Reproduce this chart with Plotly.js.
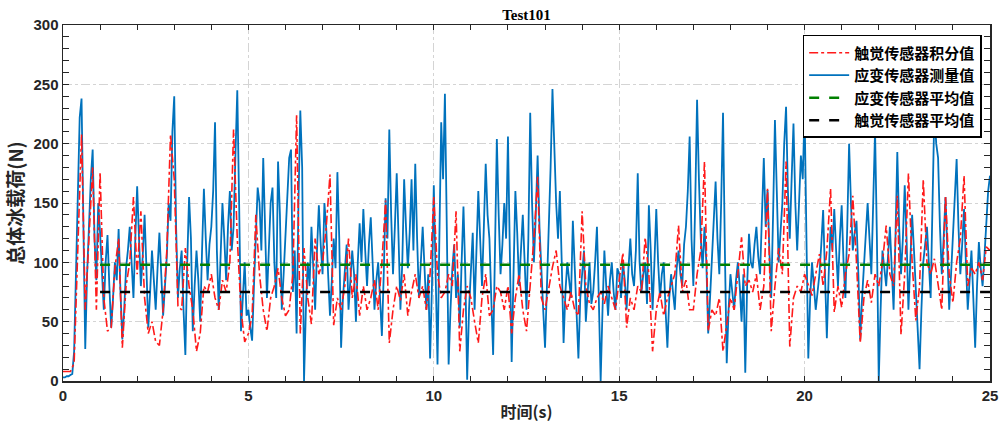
<!DOCTYPE html>
<html>
<head>
<meta charset="utf-8">
<script src="https://cdn.plot.ly/plotly-3.0.1.min.js"></script>
<style>html,body{margin:0;padding:0;background:#fff;}#chart{width:1001px;height:427px;}</style>
</head>
<body>
<div id="chart"></div>
<script>
// sample intervals (s)
const strainStep = 0.05;
const tactileStep = 0.1;

// 应变传感器测量值 (N), one value per 0.05 s from 0 to 25 s (20 per row = 1 s)
const strainValues = [
  3, 3, 4, 4, 5, 6, 25, 90, 160, 222, 238, 120, 27, 90, 140, 170, 195, 120, 85, 150,
  125, 95, 60, 100, 123, 80, 45, 70, 100, 85, 128, 75, 35, 60, 95, 110, 130, 100, 70, 120,
  164, 120, 80, 105, 140, 95, 45, 75, 110, 85, 60, 95, 125, 90, 55, 80, 105, 150, 135, 210,
  240, 130, 70, 95, 110, 60, 22, 100, 155, 120, 42, 80, 110, 85, 50, 110, 162, 120, 85, 115,
  130, 160, 218, 110, 60, 105, 150, 120, 85, 130, 160, 110, 130, 190, 245, 150, 42, 70, 100, 55,
  60, 45, 34, 80, 120, 163, 150, 110, 188, 130, 70, 110, 150, 163, 100, 70, 185, 140, 60, 90,
  120, 150, 188, 195, 75, 110, 40, 150, 228, 180, 0, 60, 100, 80, 130, 95, 60, 110, 148, 115,
  90, 150, 128, 90, 55, 85, 120, 95, 176, 120, 28, 70, 95, 115, 60, 85, 110, 90, 50, 100,
  133, 100, 145, 110, 80, 115, 138, 100, 60, 85, 100, 70, 38, 90, 154, 120, 212, 140, 90, 130,
  175, 120, 60, 100, 170, 130, 95, 125, 170, 110, 183, 120, 70, 100, 130, 95, 60, 90, 19, 80,
  165, 90, 14, 120, 218, 170, 242, 130, 14, 60, 95, 115, 70, 90, 45, 100, 147, 90, 1, 60,
  100, 125, 60, 110, 160, 120, 80, 130, 183, 140, 120, 70, 22, 110, 204, 140, 90, 115, 150, 120,
  206, 110, 16, 90, 160, 125, 80, 110, 140, 100, 60, 120, 226, 150, 100, 140, 190, 130, 90, 60,
  28, 80, 120, 180, 246, 190, 150, 120, 160, 100, 32, 75, 100, 85, 70, 135, 100, 60, 19, 70,
  90, 110, 50, 80, 100, 65, 75, 100, 130, 70, 0, 60, 110, 80, 55, 85, 100, 75, 60, 95,
  90, 70, 100, 85, 60, 95, 120, 90, 80, 110, 175, 100, 75, 90, 100, 65, 148, 110, 60, 100,
  145, 100, 70, 90, 100, 60, 28, 70, 90, 75, 60, 95, 110, 90, 80, 115, 130, 160, 206, 120,
  80, 150, 237, 170, 120, 95, 130, 100, 40, 70, 100, 130, 168, 120, 90, 150, 226, 110, 15, 60,
  90, 75, 60, 85, 100, 80, 50, 90, 7, 80, 124, 100, 95, 115, 130, 105, 90, 140, 188, 130,
  161, 110, 70, 140, 220, 160, 100, 125, 150, 200, 231, 160, 120, 170, 217, 150, 110, 150, 190, 170,
  228, 120, 19, 70, 100, 80, 60, 75, 90, 115, 144, 90, 36, 90, 130, 110, 145, 110, 80, 120,
  148, 100, 70, 130, 200, 150, 110, 125, 135, 90, 35, 70, 100, 125, 150, 120, 90, 150, 211, 120,
  0, 60, 110, 95, 80, 105, 130, 95, 60, 120, 193, 130, 90, 120, 165, 120, 60, 100, 140, 110,
  80, 50, 10, 60, 100, 115, 130, 100, 70, 150, 227, 200, 188, 130, 90, 120, 155, 110, 60, 90,
  120, 150, 187, 130, 90, 115, 145, 100, 60, 85, 110, 70, 28, 80, 117, 95, 80, 105, 130, 160,
  173
];

// 触觉传感器积分值 (N), one value per 0.1 s from 0 to 25 s (10 per row = 1 s)
const tactileValues = [
  8, 8, 8, 15, 110, 208, 60, 120, 180, 60,
  176, 70, 42, 45, 95, 120, 28, 80, 100, 155,
  90, 143, 70, 40, 50, 33, 30, 60, 110, 208,
  170, 63, 60, 112, 80, 60, 25, 40, 80, 75,
  90, 70, 60, 85, 75, 100, 212, 120, 60, 33,
  40, 55, 140, 90, 60, 42, 70, 80, 95, 70,
  55, 60, 90, 224, 40, 112, 70, 48, 120, 90,
  100, 130, 174, 47, 70, 60, 80, 120, 70, 90,
  55, 80, 60, 70, 85, 60, 100, 152, 32, 60,
  80, 68, 90, 55, 75, 90, 70, 80, 60, 90,
  155, 90, 70, 75, 90, 80, 143, 25, 60, 80,
  70, 50, 32, 70, 90, 55, 60, 80, 75, 60,
  80, 40, 70, 90, 60, 42, 80, 120, 172, 70,
  60, 80, 96, 110, 80, 70, 60, 75, 60, 55,
  143, 80, 65, 60, 70, 75, 65, 80, 70, 60,
  85, 108, 45, 70, 60, 80, 75, 121, 90, 25,
  60, 75, 55, 70, 80, 90, 131, 75, 85, 60,
  60, 90, 110, 185, 42, 60, 55, 70, 25, 50,
  70, 60, 90, 121, 80, 85, 75, 90, 60, 80,
  162, 42, 80, 112, 90, 185, 29, 70, 80, 75,
  90, 80, 72, 90, 107, 80, 110, 162, 58, 80,
  62, 90, 107, 156, 100, 32, 70, 85, 66, 90,
  80, 100, 131, 90, 80, 156, 39, 90, 175, 100,
  51, 80, 170, 100, 90, 103, 80, 60, 156, 90,
  66, 100, 120, 173, 80, 95, 90, 100, 85, 113,
  110
];

// mean lines
const meanTimes = [1, 25];
const strainMean = 98;
const tactileMean = 75;

// labels
const seriesNames = ['触觉传感器积分值', '应变传感器测量值', '应变传感器平均值', '触觉传感器平均值'];
const chartTitle = 'Test101';
const xTitle = '时间(s)';
const yTitle = '总体冰载荷(N)';

const strainTimes = strainValues.map((_, i) => +(i * strainStep).toFixed(2));
const tactileTimes = tactileValues.map((_, i) => +(i * tactileStep).toFixed(2));

const traces = [
  {x: strainTimes, y: strainValues, type: 'scatter', mode: 'lines', name: seriesNames[1], legendrank: 2,
   line: {color: '#0072BD', width: 1.8}},
  {x: tactileTimes, y: tactileValues, type: 'scatter', mode: 'lines', name: seriesNames[0], legendrank: 1,
   line: {color: '#FF1A1A', width: 1.6, dash: 'dashdot'}},
  {x: meanTimes, y: meanTimes.map(() => strainMean), type: 'scatter', mode: 'lines', name: seriesNames[2], legendrank: 3,
   line: {color: '#008000', width: 2.5, dash: '10px,10px'}},
  {x: meanTimes, y: meanTimes.map(() => tactileMean), type: 'scatter', mode: 'lines', name: seriesNames[3], legendrank: 4,
   line: {color: '#000000', width: 2.5, dash: '10px,10px'}}
];

const axisCommon = {
  showline: true, linecolor: '#262626', linewidth: 1.5, mirror: 'allticks',
  ticks: 'inside', tickcolor: '#262626', tickwidth: 1,
  showgrid: true, gridcolor: '#d4d4d4', griddash: 'dashdot', gridwidth: 1,
  zeroline: false,
  tickfont: {family: 'Liberation Sans, Arial, sans-serif', size: 15, color: '#262626', weight: 'bold'}
};

const layout = {
  width: 1001, height: 427,
  margin: {l: 63, r: 11, t: 25, b: 46},
  paper_bgcolor: '#ffffff', plot_bgcolor: '#ffffff',
  showlegend: true,
  title: {text: chartTitle, x: 0.526, xanchor: 'center', y: 0.965, yanchor: 'middle',
          font: {family: 'Liberation Serif, Times New Roman, serif', size: 15, color: '#000', weight: 'bold'}},
  xaxis: Object.assign({}, axisCommon, {
    range: [0, 25], tick0: 0, dtick: 5, ticklen: 5,
    minor: {dtick: 1, ticks: 'inside', ticklen: 5, tickcolor: '#262626', showgrid: false},
    title: {text: xTitle, standoff: 4, font: {family: 'Noto Sans CJK SC, sans-serif', size: 16, color: '#262626', weight: 'bold'}}
  }),
  yaxis: Object.assign({}, axisCommon, {
    range: [0, 300], tick0: 0, dtick: 50, ticklen: 6,
    minor: {dtick: 10, ticks: 'inside', ticklen: 6, tickcolor: '#262626', showgrid: false},
    title: {text: yTitle, standoff: 5, font: {family: 'Noto Sans CJK SC, sans-serif', size: 19, color: '#262626', weight: 'bold'}}
  }),
  legend: {
    x: 0.991, xanchor: 'right', y: 0.972, yanchor: 'top',
    bgcolor: '#ffffff', bordercolor: '#000000', borderwidth: 1.5,
    font: {family: 'Noto Sans CJK SC, sans-serif', size: 15, color: '#000', weight: 'bold'},
    tracegroupgap: 0, itemwidth: 40
  }
};

Plotly.newPlot('chart', traces, layout, {displayModeBar: false, staticPlot: true});
</script>
</body>
</html>
